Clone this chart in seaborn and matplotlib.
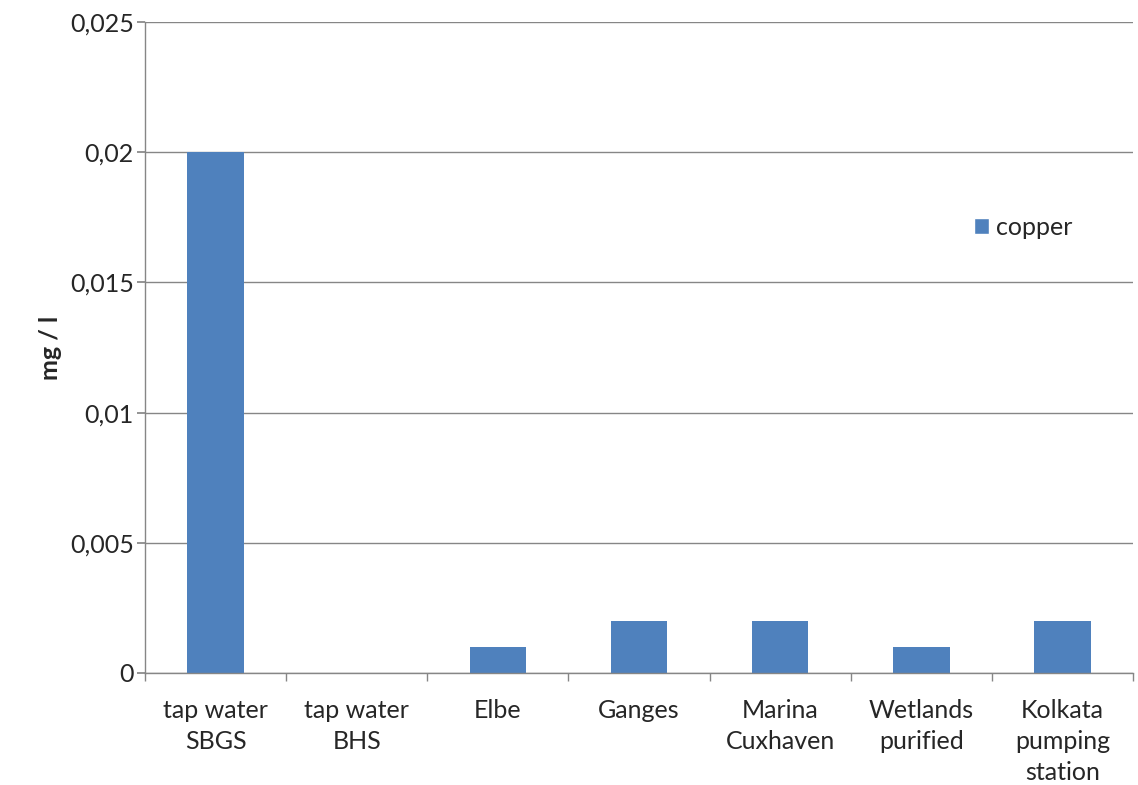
import matplotlib
matplotlib.use("Agg")
import matplotlib.pyplot as plt
import seaborn as sns
import pandas as pd
import numpy as np
from matplotlib.patches import Patch

categories = ["tap water\nSBGS", "tap water\nBHS", "Elbe", "Ganges", "Marina\nCuxhaven",
              "Wetlands\npurified", "Kolkata\npumping\nstation"]
copper = [0.02, 0.0, 0.001, 0.002, 0.002, 0.001, 0.002]
yticks = [0, 0.005, 0.01, 0.015, 0.02, 0.025]
yticklabels = ["0", "0,005", "0,01", "0,015", "0,02", "0,025"]

sns.set_theme(style="white")
plt.rcParams['font.family'] = ['Lato', 'DejaVu Sans']

fs = 18
color = "#4F81BD"
fig = plt.figure(figsize=(11.38, 7.85), dpi=100)
ax = fig.add_axes([145/1138, 1-673/785, 988/1138, 651/785])

df = pd.DataFrame({"cat": categories, "val": copper})
sns.barplot(data=df, x="cat", y="val", color=color, width=0.4, saturation=1, ax=ax,
            linewidth=0)

ax.set_xlim(-0.5, len(categories) - 0.5)
ax.set_ylim(0, 0.025)
ax.set_yticks(yticks)
ax.set_yticklabels(yticklabels, fontsize=fs)
ax.yaxis.grid(True, color="#868686", linewidth=1)
ax.set_axisbelow(True)
ax.set_xlabel("")
ax.set_ylabel("mg / l", fontsize=fs, fontweight="bold", labelpad=6)

for s in ["top", "right"]:
    ax.spines[s].set_visible(False)
for s in ["left", "bottom"]:
    ax.spines[s].set_color("#868686")
    ax.spines[s].set_linewidth(1)

ax.tick_params(axis="x", which="major", length=0, labelsize=fs, pad=19)
ax.set_xticks(np.arange(-0.5, len(categories), 1.0), minor=True)
ax.tick_params(axis="x", which="minor", length=6, color="#868686", bottom=True)
ax.tick_params(axis="y", which="major", length=6, color="#868686", left=True, labelsize=fs, pad=2)
for lab in ax.get_xticklabels():
    lab.set_linespacing(1.4)

ax.legend(handles=[Patch(facecolor=color, label="copper")], loc="center left",
          bbox_to_anchor=(0.816, 0.685), frameon=False, fontsize=fs,
          handlelength=0.6, handleheight=0.6, handletextpad=0.3)

fig.savefig("out.png", dpi=100)
